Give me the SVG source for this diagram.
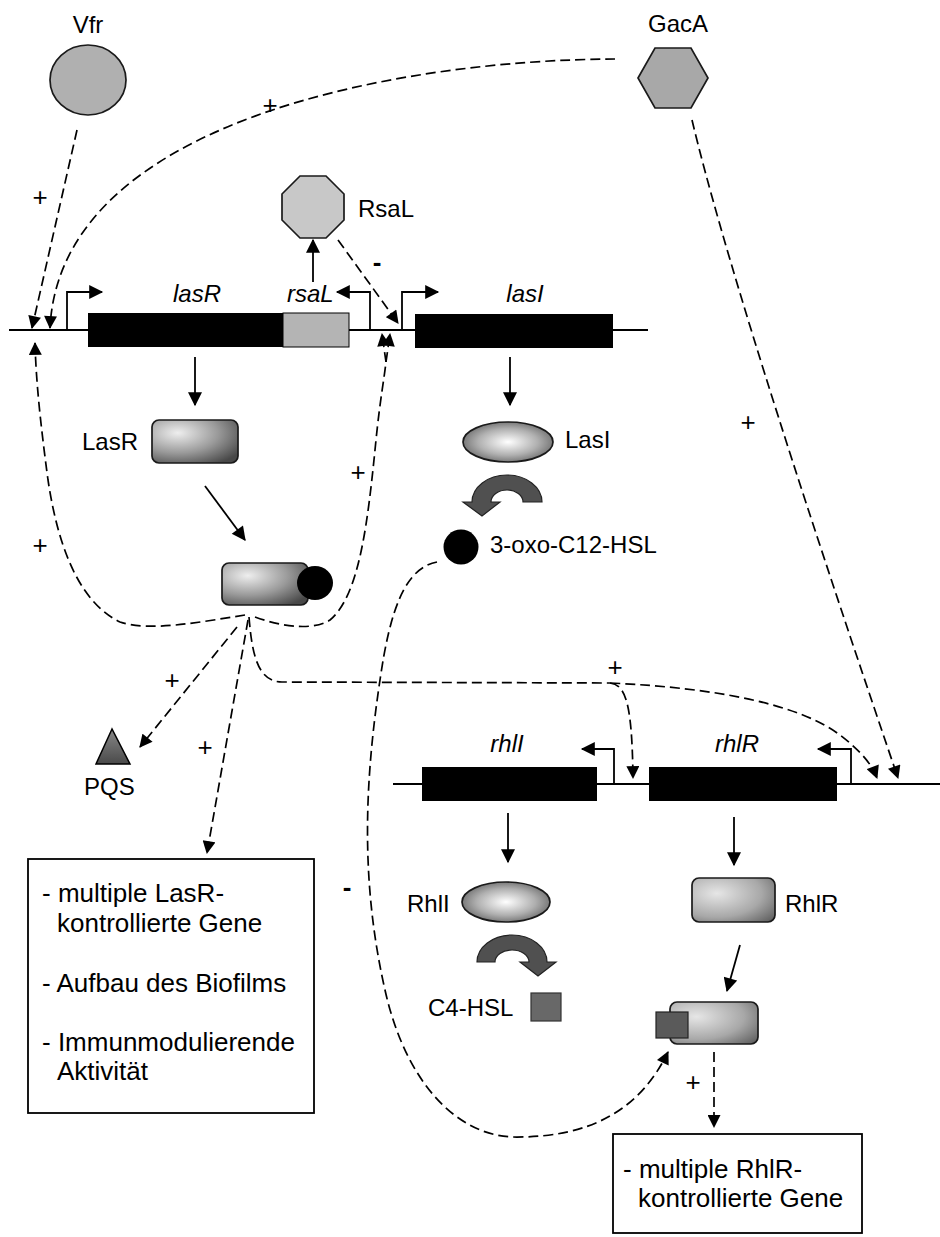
<svg xmlns="http://www.w3.org/2000/svg" width="940" height="1237" viewBox="0 0 940 1237">
  <defs>
    <style>
      text { font-family: "Liberation Sans", Arial, sans-serif; fill: #000; }
      .lbl { font-size: 24px; }
      .gene { font-size: 24px; font-style: italic; }
      .sign { font-size: 26px; text-anchor: middle; }
      .minus { font-size: 26px; font-weight: bold; text-anchor: middle; }
      .boxt { font-size: 26px; }
      .solid { fill: none; stroke: #000; stroke-width: 1.8; }
      .dash { fill: none; stroke: #000; stroke-width: 1.7; stroke-dasharray: 10 5; }
      .dna { fill: none; stroke: #000; stroke-width: 1.8; }
      .gene-block { fill: #000; }
      .protein { stroke: #1a1a1a; stroke-width: 1.7; }
      .frame { fill: #fff; stroke: #000; stroke-width: 1.8; }
    </style>
    <marker id="ah" viewBox="0 0 12 12" refX="11" refY="6" markerWidth="15" markerHeight="14" markerUnits="userSpaceOnUse" orient="auto">
      <path d="M0,0 L12,6 L0,12 z" fill="#000"/>
    </marker>
    <marker id="ahd" viewBox="0 0 12 12" refX="11" refY="6" markerWidth="14" markerHeight="13" markerUnits="userSpaceOnUse" orient="auto">
      <path d="M0,0 L12,6 L0,12 z" fill="#000"/>
    </marker>
    <radialGradient id="gRect" cx="0.3" cy="0.3" r="0.85">
      <stop offset="0" stop-color="#eeeeee"/>
      <stop offset="0.55" stop-color="#9a9a9a"/>
      <stop offset="1" stop-color="#484848"/>
    </radialGradient>
    <radialGradient id="gRectLight" cx="0.3" cy="0.35" r="0.9">
      <stop offset="0" stop-color="#e6e6e6"/>
      <stop offset="0.6" stop-color="#a8a8a8"/>
      <stop offset="1" stop-color="#606060"/>
    </radialGradient>
    <radialGradient id="gEll" cx="0.5" cy="0.5" r="0.55">
      <stop offset="0" stop-color="#ffffff"/>
      <stop offset="0.6" stop-color="#b0b0b0"/>
      <stop offset="1" stop-color="#6a6a6a"/>
    </radialGradient>
    <linearGradient id="gTri" x1="0" y1="0" x2="0" y2="1">
      <stop offset="0" stop-color="#888"/>
      <stop offset="1" stop-color="#4a4a4a"/>
    </linearGradient>
  </defs>

  <!-- DNA: las locus -->
  <g id="las-locus">
    <line class="dna" x1="9" y1="330" x2="648" y2="330"/>
    <rect class="gene-block" x="88" y="313" width="195" height="34"/>
    <rect x="283" y="313" width="66" height="34" fill="#b4b4b4" stroke="#000" stroke-width="1"/>
    <rect class="gene-block" x="415" y="314" width="198" height="34"/>
    <!-- promoters -->
    <path class="solid" d="M67,330 V292 H102" marker-end="url(#ah)"/>
    <path class="solid" d="M370,330 V292 H337" marker-end="url(#ah)"/>
    <path class="solid" d="M402,330 V292 H438" marker-end="url(#ah)"/>
    <text class="gene" x="197" y="302" text-anchor="middle">lasR</text>
    <text class="gene" x="287" y="302">rsaL</text>
    <text class="gene" x="525" y="302" text-anchor="middle">lasI</text>
  </g>

  <!-- DNA: rhl locus -->
  <g id="rhl-locus">
    <line class="dna" x1="393" y1="784" x2="940" y2="784"/>
    <rect class="gene-block" x="422" y="767" width="175" height="34"/>
    <rect class="gene-block" x="649" y="767" width="188" height="34"/>
    <path class="solid" d="M614,784 V749 H582" marker-end="url(#ah)"/>
    <path class="solid" d="M851,784 V749 H818" marker-end="url(#ah)"/>
    <text class="gene" x="507" y="752" text-anchor="middle">rhlI</text>
    <text class="gene" x="737" y="752" text-anchor="middle">rhlR</text>
  </g>

  <!-- regulators -->
  <g id="vfr">
    <ellipse cx="88" cy="80" rx="38" ry="35" fill="#b0b0b0" class="protein"/>
    <text class="lbl" x="88" y="33" text-anchor="middle">Vfr</text>
  </g>
  <g id="gaca">
    <polygon points="638,78 655,48 691,48 708,78 691,108 655,108" fill="#a8a8a8" class="protein"/>
    <text class="lbl" x="678" y="32" text-anchor="middle">GacA</text>
  </g>
  <g id="rsal">
    <polygon points="300,176 326,176 344,194 344,220 326,238 300,238 282,220 282,194" fill="#c8c8c8" class="protein"/>
    <text class="lbl" x="358" y="217">RsaL</text>
  </g>

  <!-- las system proteins -->
  <g id="lasr">
    <rect x="152" y="420" width="86" height="43" rx="7" fill="url(#gRect)" class="protein"/>
    <text class="lbl" x="82" y="450">LasR</text>
  </g>
  <g id="lasr-complex">
    <rect x="222" y="563" width="86" height="42" rx="7" fill="url(#gRect)" class="protein"/>
    <ellipse cx="315" cy="583" rx="18" ry="17" fill="#000"/>
  </g>
  <g id="lasi">
    <ellipse cx="508" cy="442" rx="45" ry="20" fill="url(#gEll)" class="protein"/>
    <text class="lbl" x="565" y="448">LasI</text>
  </g>
  <g id="lasi-synthesis">
    <path d="M523,502 L542,502 A35,27 0 0 0 472,502 L463,502 L482,516 L500,502 L491,502 A16,12 0 0 1 523,502 Z" fill="#505050" stroke="#222" stroke-width="1.2"/>
  </g>
  <g id="oxo-c12-hsl">
    <circle cx="461" cy="547" r="17.5" fill="#000"/>
    <text class="lbl" x="490" y="553">3-oxo-C12-HSL</text>
  </g>
  <g id="pqs">
    <polygon points="112,729 96,764 130,764" fill="url(#gTri)" stroke="#000" stroke-width="1.5"/>
    <text class="lbl" x="84" y="795">PQS</text>
  </g>

  <!-- rhl system proteins -->
  <g id="rhli">
    <ellipse cx="506" cy="902" rx="44" ry="20" fill="url(#gEll)" class="protein"/>
    <text class="lbl" x="407" y="912">RhlI</text>
  </g>
  <g id="rhli-synthesis">
    <path d="M495,962 L477,962 A35,27 0 0 1 547,962 L556,962 L538,976 L520,962 L529,962 A17,12 0 0 0 495,962 Z" fill="#505050" stroke="#222" stroke-width="1.2"/>
  </g>
  <g id="c4-hsl">
    <rect x="531" y="993" width="30" height="28" fill="#686868" stroke="#333" stroke-width="1.2"/>
    <text class="lbl" x="428" y="1016">C4-HSL</text>
  </g>
  <g id="rhlr">
    <rect x="692" y="878" width="83" height="44" rx="7" fill="url(#gRectLight)" class="protein"/>
    <text class="lbl" x="785" y="912">RhlR</text>
  </g>
  <g id="rhlr-complex">
    <rect x="670" y="1002" width="88" height="42" rx="7" fill="url(#gRectLight)" class="protein"/>
    <rect x="656" y="1012" width="32" height="26" fill="#5a5a5a" stroke="#222" stroke-width="1.2"/>
  </g>

  <!-- target boxes -->
  <g id="las-targets">
    <rect class="frame" x="28" y="859" width="286" height="254"/>
    <text class="boxt" x="42" y="902">- multiple LasR-</text>
    <text class="boxt" x="57" y="932">kontrollierte Gene</text>
    <text class="boxt" x="42" y="992">- Aufbau des Biofilms</text>
    <text class="boxt" x="42" y="1051">- Immunmodulierende</text>
    <text class="boxt" x="57" y="1080">Aktivität</text>
  </g>
  <g id="rhl-targets">
    <rect class="frame" x="613" y="1134" width="249" height="99"/>
    <text class="boxt" x="623" y="1178">- multiple RhlR-</text>
    <text class="boxt" x="638" y="1207">kontrollierte Gene</text>
  </g>

  <!-- connectors -->
  <g id="connectors">
    <!-- expression / synthesis arrows -->
    <line class="solid" x1="313" y1="282" x2="313" y2="240" marker-end="url(#ah)"/>
    <line class="solid" x1="195" y1="357" x2="195" y2="405" marker-end="url(#ah)"/>
    <line class="solid" x1="205" y1="486" x2="245" y2="540" marker-end="url(#ah)"/>
    <line class="solid" x1="510" y1="357" x2="510" y2="405" marker-end="url(#ah)"/>
    <line class="solid" x1="508" y1="813" x2="508" y2="862" marker-end="url(#ah)"/>
    <line class="solid" x1="734" y1="817" x2="734" y2="865" marker-end="url(#ah)"/>
    <line class="solid" x1="740" y1="945" x2="727" y2="991" marker-end="url(#ah)"/>

    <!-- regulatory influences -->
    <path class="dash" d="M77,130 L32,328" marker-end="url(#ahd)"/>
    <path class="dash" d="M615,59 C400,60 60,120 50,328" marker-end="url(#ahd)"/>
    <path class="dash" d="M338,240 L398,323" marker-end="url(#ahd)"/>
    <path class="dash" d="M692,120 Q735,300 898,778" marker-end="url(#ahd)"/>

    <!-- LasR/3-oxo-C12-HSL feedback loops -->
    <path class="dash" d="M245,615 C200,622 150,632 120,622 C85,605 60,560 48,480 C40,420 36,380 35,343" marker-end="url(#ahd)"/>
    <path class="dash" d="M255,617 C285,628 315,630 330,620 C360,595 368,520 376,440 C380,400 384,380 386,362"/>
    <path class="dash" d="M386,362 L382,334" marker-end="url(#ahd)"/>
    <path class="dash" d="M386,362 L390,334" marker-end="url(#ahd)"/>

    <!-- LasR complex targets -->
    <path class="dash" d="M237,627 L140,747" marker-end="url(#ahd)"/>
    <path class="dash" d="M248,620 L207,853" marker-end="url(#ahd)"/>
    <path class="dash" d="M249,617 C252,655 258,682 282,682 L610,683"/>
    <path class="dash" d="M610,683 C625,685 632,700 633,778" marker-end="url(#ahd)"/>
    <path class="dash" d="M610,683 C720,688 800,705 840,735 C862,752 872,765 877,778" marker-end="url(#ahd)"/>

    <!-- 3-oxo-C12-HSL inhibits RhlR complex -->
    <path class="dash" d="M437,562 C405,568 390,610 380,680 C365,780 360,880 385,990 C405,1080 455,1135 513,1137 C590,1138 640,1110 668,1052" marker-end="url(#ahd)"/>

    <!-- RhlR complex targets -->
    <path class="dash" d="M714,1052 L714,1127" marker-end="url(#ahd)"/>

    <!-- signs -->
    <text class="sign" x="270" y="114">+</text>
    <text class="sign" x="40" y="206">+</text>
    <text class="sign" x="40" y="554">+</text>
    <text class="sign" x="358" y="481">+</text>
    <text class="sign" x="748" y="431">+</text>
    <text class="sign" x="172" y="689">+</text>
    <text class="sign" x="205" y="756">+</text>
    <text class="sign" x="615" y="676">+</text>
    <text class="sign" x="693" y="1091">+</text>
    <text class="minus" x="377" y="271">-</text>
    <text class="minus" x="347" y="896">-</text>
  </g>
</svg>
